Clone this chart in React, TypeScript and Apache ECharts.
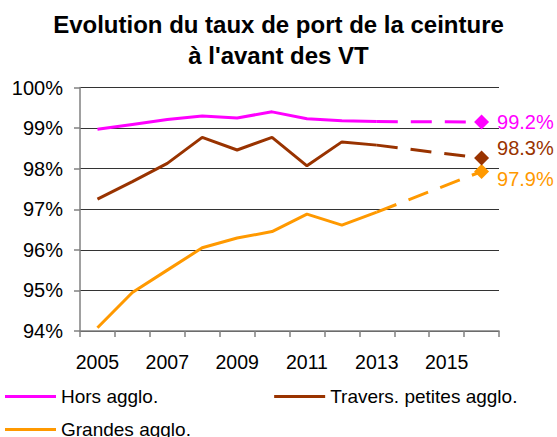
import React, { useEffect, useRef } from "react";
import * as echarts from "echarts";

const years = ["2005", "2006", "2007", "2008", "2009", "2010", "2011", "2012", "2013", "2014", "2015", "2016"];
const horsAgglo = [98.97, 99.09, 99.21, 99.3, 99.25, 99.4, 99.23, 99.18, 99.16, null, null, null];
const horsAggloProj = [null, null, null, null, null, null, null, null, 99.16, null, null, 99.15];
const traversPetites = [97.25, 97.68, 98.13, 98.77, 98.46, 98.77, 98.07, 98.66, 98.58, null, null, null];
const traversPetitesProj = [null, null, null, null, null, null, null, null, 98.58, null, null, 98.26];
const grandesAgglo = [94.08, 94.95, 95.5, 96.05, 96.29, 96.45, 96.88, 96.61, 96.93, null, null, null];
const grandesAggloProj = [null, null, null, null, null, null, null, null, 96.93, null, null, 97.93];
const endLabels = ["99.2%", "98.3%", "97.9%"];
const seriesNames = ["Hors agglo.", "Travers. petites agglo.", "Grandes agglo."];
const colors = ["#FF00FF", "#993300", "#FF9900"];
const yTicks = { min: 94, max: 100, interval: 1 };

const FONT = "'Liberation Sans', Arial, sans-serif";

export default function App() {
  const ref = useRef<HTMLDivElement>(null);
  useEffect(() => {
    if (!ref.current) return;
    const chart = echarts.init(ref.current, null, { renderer: "svg" });
    const solid = [horsAgglo, traversPetites, grandesAgglo];
    const proj = [horsAggloProj, traversPetitesProj, grandesAggloProj];
    const labelOffsets = [[0, 0], [0, -10], [0, 7]];
    const series: any[] = [];
    solid.forEach((d, i) => {
      series.push({
        name: seriesNames[i],
        type: "line",
        data: d,
        symbol: "none",
        lineStyle: { color: colors[i], width: 3 },
        itemStyle: { color: colors[i] },
        z: 3 - i + 2,
      });
    });
    proj.forEach((d, i) => {
      const last = d.length - 1;
      series.push({
        name: seriesNames[i] + " (proj)",
        type: "line",
        connectNulls: true,
        showAllSymbol: true,
        symbol: "none",
        data: d.map((v, j) =>
          j === last && v != null
            ? {
                value: v,
                symbol: "diamond",
                symbolSize: 15,
                label: {
                  show: true,
                  position: "right",
                  distance: 8,
                  offset: labelOffsets[i],
                  formatter: endLabels[i],
                  color: colors[i],
                  fontSize: 20,
                  fontFamily: FONT,
                },
              }
            : v
        ),
        lineStyle: { color: colors[i], width: 3, type: [21, 13] },
        itemStyle: { color: colors[i] },
        z: 3 - i + 2,
      });
    });
    chart.setOption({
      animation: false,
      title: {
        text: "Evolution du taux de port de la ceinture\nà l'avant des VT",
        left: "center",
        top: 4,
        textStyle: {
          fontFamily: FONT,
          fontWeight: "bold",
          fontSize: 24,
          lineHeight: 31,
          color: "#000",
        },
      },
      grid: { left: 80, right: 58, top: 87.5, bottom: 106, containLabel: false },
      legend: [
        {
          data: [seriesNames[0], seriesNames[1]],
          left: 5,
          top: 387,
          padding: 0,
          icon: "rect",
          itemWidth: 51,
          itemHeight: 3,
          itemGap: 116,
          textStyle: { fontFamily: FONT, fontSize: 19, color: "#000" },
        },
        {
          data: [seriesNames[2]],
          left: 5,
          top: 420,
          padding: 0,
          icon: "rect",
          itemWidth: 51,
          itemHeight: 3,
          textStyle: { fontFamily: FONT, fontSize: 19, color: "#000" },
        },
      ],
      xAxis: {
        type: "category",
        data: years,
        boundaryGap: true,
        axisLine: { lineStyle: { color: "#808080", width: 1.5 } },
        axisTick: { show: true, interval: 0, length: 6, inside: false, lineStyle: { color: "#808080", width: 1.5 } },
        axisLabel: { interval: 1, margin: 21, fontFamily: FONT, fontSize: 19.5, color: "#000" },
        splitLine: { show: false },
      },
      yAxis: {
        type: "value",
        min: yTicks.min,
        max: yTicks.max,
        interval: yTicks.interval,
        axisLine: { show: true, lineStyle: { color: "#808080", width: 1.5 } },
        axisTick: { show: true, length: 6, inside: false, lineStyle: { color: "#808080", width: 1.5 } },
        axisLabel: { formatter: "{value}%", margin: 17, fontFamily: FONT, fontSize: 20, color: "#000" },
        splitLine: { show: true, lineStyle: { color: "#333", width: 1 } },
      },
      series,
    });
    return () => chart.dispose();
  }, []);
  return <div ref={ref} style={{ width: 557, height: 437, position: "absolute", left: 0, top: 0 }} />;
}
